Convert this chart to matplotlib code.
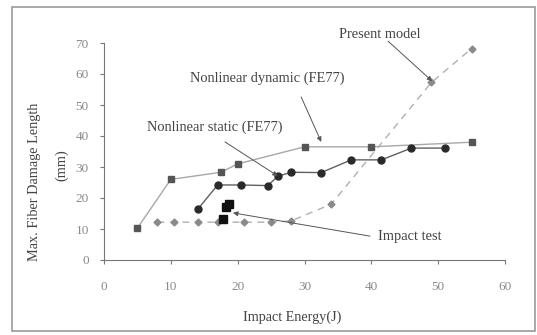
import matplotlib
matplotlib.use("Agg")
import matplotlib.pyplot as plt
from matplotlib.patches import Rectangle

plt.rcParams['font.family'] = ['Liberation Serif', 'DejaVu Serif']

# Nonlinear dynamic (FE77)
dyn_x = [5, 10, 17.5, 20, 30, 40, 55]
dyn_y = [10.3, 26, 28.3, 31, 36.5, 36.5, 38]

# Nonlinear static (FE77)
sta_x = [14, 17, 20.5, 24.5, 26, 28, 32.5, 37, 41.5, 46, 51]
sta_y = [16.3, 24.2, 24.2, 24, 27, 28.3, 28.2, 32.3, 32.3, 36.1, 36.1]

# Present model
pm_x = [8, 10.5, 14, 17, 21, 25, 28, 34, 49, 55]
pm_y = [12.2, 12.2, 12.2, 12.2, 12.2, 12.2, 12.6, 18, 57.3, 68.2]

# Impact test
imp_x = [17.8, 18.2, 18.7]
imp_y = [13.2, 17.1, 18.2]

fig = plt.figure(figsize=(5.37, 3.35), dpi=100)
fig.patches.append(Rectangle((12/537, 4/335), 523/537, 324/335, transform=fig.transFigure,
                             fill=False, edgecolor='#9a9a9a', lw=1.2))
ax = fig.add_axes([104/537, 1-260/335, 401/537, 217/335])

ax.plot(pm_x, pm_y, color='#b0b0b0', ls=(0, (5, 4)), lw=1.0, marker='D', ms=3.5,
        mfc='#8a8a8a', mec='#8a8a8a', zorder=2)
ax.plot(dyn_x, dyn_y, color='#a8a8a8', lw=1.0, marker='s', ms=5,
        mfc='#555555', mec='#555555', zorder=3)
ax.plot(sta_x, sta_y, color='#606060', lw=1.0, marker='o', ms=5,
        mfc='#2a2a2a', mec='#2a2a2a', zorder=3)
ax.plot(imp_x, imp_y, ls='none', marker='s', ms=6, mfc='#111111', mec='#111111', zorder=4)

ax.set_xlim(0, 60)
ax.set_ylim(0, 70)
ax.set_xticks(range(0, 61, 10))
ax.set_yticks(range(0, 71, 10))
for s in ['top', 'right']:
    ax.spines[s].set_visible(False)
for s in ['left', 'bottom']:
    ax.spines[s].set_color('#777777')
ax.tick_params(direction='out', length=3, color='#777777', labelcolor='#8a8a8a', labelsize=9.5)
ax.tick_params(axis='x', pad=12)
ax.tick_params(axis='y', pad=8)

# axis titles placed as in the original chart
fig.text(292/537, 1-317/335, 'Impact Energy(J)', fontsize=10.2, color='#444444',
         ha='center', va='center')
fig.text(35/537, 1-182/335, 'Max. Fiber Damage Length', fontsize=10.3, color='#444444',
         ha='center', va='center', rotation=90)
fig.text(62/537, 1-165/335, '(mm)', fontsize=10.3, color='#444444',
         ha='center', va='center', rotation=90)

# callout texts and their arrows
tkw = dict(fontsize=10.4, color='#444444', va='center')
ax.text(41.3, 72.6, 'Present model', ha='center', **tkw)
ax.text(24.5, 58.7, 'Nonlinear dynamic (FE77)', ha='center', **tkw)
ax.text(16.6, 42.9, 'Nonlinear static (FE77)', ha='center', **tkw)
ax.text(41.0, 7.6, 'Impact test', ha='left', **tkw)

arrow = dict(arrowstyle='-|>', color='#555555', lw=0.7, mutation_scale=7, shrinkA=0, shrinkB=0)
ax.annotate('', xy=(49.1, 57.7), xytext=(42.5, 70.6), arrowprops=arrow)
ax.annotate('', xy=(32.5, 38.1), xytext=(29.5, 52.6), arrowprops=arrow)
ax.annotate('', xy=(26, 27.1), xytext=(18.1, 38.1), arrowprops=arrow)
ax.annotate('', xy=(19.3, 15.2), xytext=(39.8, 7.7), arrowprops=arrow)

fig.savefig('out.png', dpi=100)
